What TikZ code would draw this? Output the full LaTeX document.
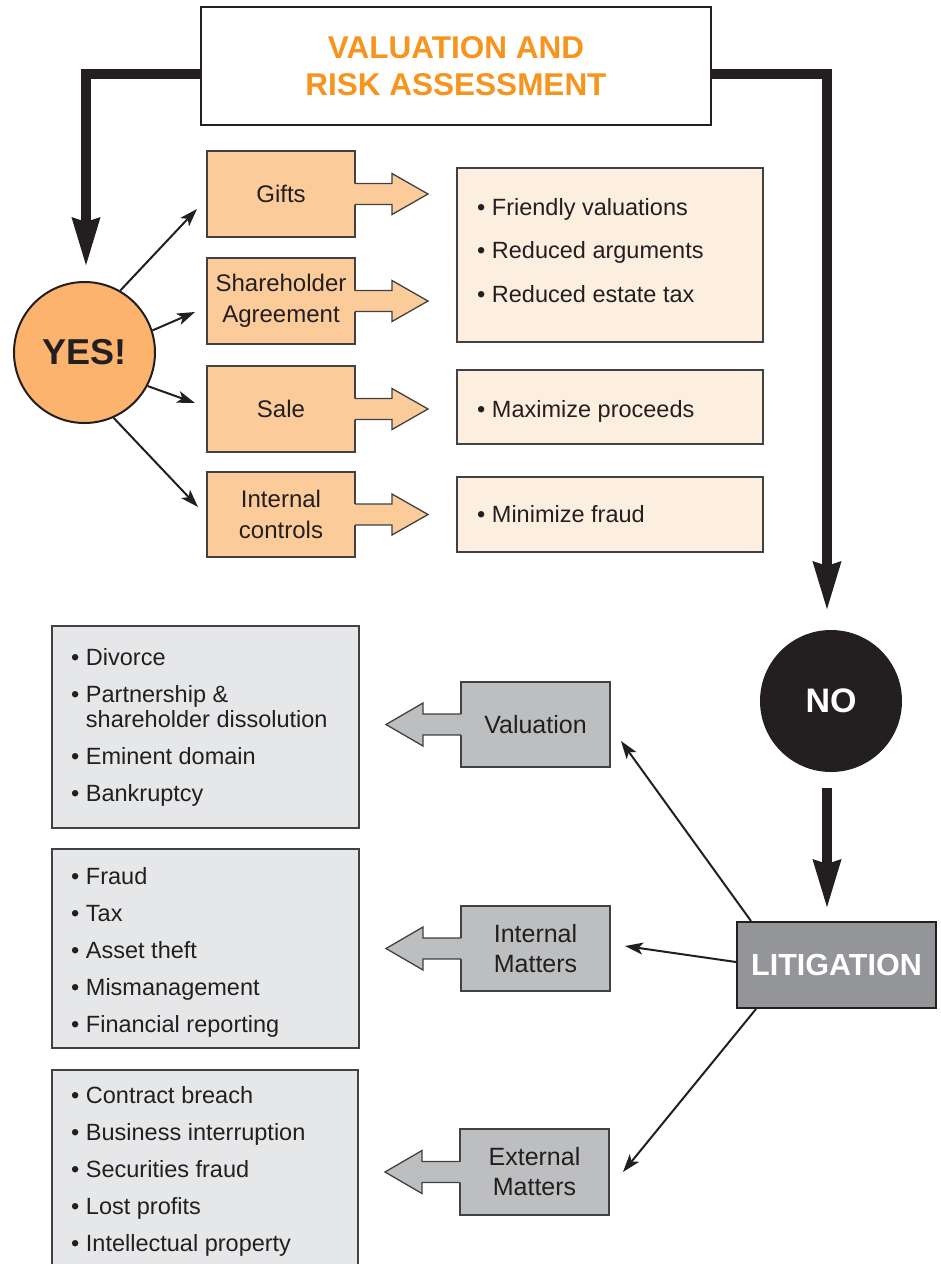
\documentclass[tikz,border=0pt]{standalone}
\usepackage{fontspec}
\setmainfont{Liberation Sans}
\usetikzlibrary{arrows.meta,calc}
\definecolor{ink}{HTML}{231F20}
\definecolor{orangetxt}{HTML}{F7941D}
\definecolor{obox}{HTML}{FBCB9A}
\definecolor{ocircle}{HTML}{FBB36E}
\definecolor{peach}{HTML}{FDEFDF}
\definecolor{lgray}{HTML}{E6E7E8}
\definecolor{mgray}{HTML}{BCBEC0}
\definecolor{dgray}{HTML}{939598}
\definecolor{bordc}{HTML}{414042}
\begin{document}
\begin{tikzpicture}[x=1pt,y=-1pt,
  bord/.style={draw=bordc, line width=1.3pt, outer sep=0pt},
  orbox/.style={bord, fill=obox, minimum width=148pt, minimum height=86pt, inner sep=0pt, align=center, text=ink, font=\fontsize{24}{31}\selectfont},
  smbox/.style={bord, fill=mgray, minimum width=149pt, minimum height=85pt, inner sep=0pt, align=center, text=ink, font=\fontsize{25}{30}\selectfont},
  pkbox/.style={bord, fill=peach, minimum width=306pt, inner sep=0pt},
  lgbox/.style={bord, fill=lgray, minimum width=307pt, inner sep=0pt},
  listtext/.style={anchor=base west, inner sep=0pt, text=ink, font=\fontsize{23.5}{25}\selectfont},
  thinarrow/.style={draw=ink, line width=2pt, -{Stealth[length=18pt,width=12pt,inset=4.5pt]}},
  thickarrow/.style={draw=ink, line width=10pt, line join=miter, -{Stealth[length=48pt,width=26pt,inset=3pt]}}
]
\useasboundingbox (0,0) rectangle (940,1264);
\clip (0,0) rectangle (940,1264);
\fill[white] (0,0) rectangle (940,1264);

% title
\node[draw=ink, line width=2pt, fill=white, minimum width=510pt, minimum height=118pt, inner sep=0pt, outer sep=0pt,
      align=center, text=orangetxt, font=\bfseries\fontsize{31.5}{37}\selectfont] (title) at (456,66)
      {VALUATION AND\\RISK ASSESSMENT};

% YES side
\node[circle, draw=ink, line width=2pt, fill=ocircle, minimum size=141pt, inner sep=0pt, text=ink,
      font=\bfseries\fontsize{36}{36}\selectfont] (yes) at (84.5,352.5) {YES!};

\node[orbox] (gifts) at (281,194) {Gifts};
\node[orbox] (share) at (281,301) {Shareholder\\Agreement};
\node[orbox] (sale)  at (281,409) {Sale};
\node[orbox, minimum height=85pt] (ictrl) at (281,514.5) {Internal\\controls};

\foreach \n in {gifts,share,sale,ictrl}{
  \fill[obox] ($(\n.east)+(-1.5,-10.5)$) -- ++(38.5,0) -- ++(0,-10) -- ++(36,20.5) -- ++(-36,20.5) -- ++(0,-10) -- ++(-38.5,0) -- cycle;
  \draw[bord] ($(\n.east)+(0,-10.5)$) -- ++(37,0) -- ++(0,-10) -- ++(36,20.5) -- ++(-36,20.5) -- ++(0,-10) -- ++(-37,0);
}

\node[pkbox, minimum height=174pt] (pk1) at (610,255) {};
\node[pkbox, minimum height=74pt] (pk2) at (610,407) {};
\node[pkbox, minimum height=75pt] (pk3) at (610,514.5) {};

\node[listtext] (tpk1) at (477,215) {\begin{tabular}[t]{@{}l@{}}• Friendly valuations\\[18.5pt]• Reduced arguments\\[18.5pt]• Reduced estate tax\end{tabular}};
\node[listtext] (tpk2) at (477,417) {• Maximize proceeds};
\node[listtext] (tpk3) at (477,522) {• Minimize fraud};

\coordinate (ta1) at (197,209);
\coordinate (ta2) at (195,312);
\coordinate (ta3) at (195,403);
\coordinate (ta4) at (198,507);
\draw[thinarrow] (yes.60) -- (ta1);
\draw[thinarrow] (yes.18) -- (ta2);
\draw[thinarrow] (yes.-28) -- (ta3);
\draw[thinarrow] (yes.-66) -- (ta4);

% thick connectors
\draw[thickarrow] ($(title.west)+(0,8)$) -| ($(yes.north)+(1.5,-14)$);
\coordinate (noin) at (827,611);
\draw[thickarrow] ($(title.east)+(0,8)$) -| (noin);

% NO side
\node[circle, fill=ink, minimum size=142pt, inner sep=0pt, text=white,
      font=\bfseries\fontsize{34}{34}\selectfont] (no) at (831,701) {NO};
\node[draw=ink, line width=2pt, fill=dgray, minimum width=199pt, minimum height=86pt, inner sep=0pt,
      text=white, font=\bfseries\fontsize{30.5}{30.5}\selectfont] (lit) at (836.5,965) {LITIGATION};
\draw[thickarrow] ($(no.south)+(-4,16)$) -- ($(lit.north)+(-9.5,-12)$);

% gray list boxes
\node[lgbox, minimum height=202pt] (gA) at (205.5,727) {};
\node[lgbox, minimum height=199pt] (gB) at (205.5,948.5) {};
\node[lgbox, minimum width=306pt, minimum height=200pt] (gC) at (205,1170) {};

\node[listtext] (tgA) at (71,665) {\begin{tabular}[t]{@{}l@{}}• Divorce\\[12pt]• Partnership \&\\\phantom{• }shareholder dissolution\\[12pt]• Eminent domain\\[12pt]• Bankruptcy\end{tabular}};
\node[listtext] (tgB) at (71,884) {\begin{tabular}[t]{@{}l@{}}• Fraud\\[12pt]• Tax\\[12pt]• Asset theft\\[12pt]• Mismanagement\\[12pt]• Financial reporting\end{tabular}};
\node[listtext] (tgC) at (71,1103) {\begin{tabular}[t]{@{}l@{}}• Contract breach\\[12pt]• Business interruption\\[12pt]• Securities fraud\\[12pt]• Lost profits\\[12pt]• Intellectual property\end{tabular}};

% small gray boxes with left block arrows
\node[smbox] (val)  at (535.5,724.5) {Valuation};
\node[smbox] (intm) at (535.5,948.5) {Internal\\Matters};
\node[smbox, minimum height=86pt] (extm) at (534.5,1172) {External\\Matters};

\foreach \n in {val,intm,extm}{
  \fill[mgray] ($(\n.west)+(1.5,-10.5)$) -- ++(-39.5,0) -- ++(0,-11) -- ++(-37,21.5) -- ++(37,21.5) -- ++(0,-11) -- ++(39.5,0) -- cycle;
  \draw[bord] ($(\n.west)+(0,-10.5)$) -- ++(-38,0) -- ++(0,-11) -- ++(-37,21.5) -- ++(37,21.5) -- ++(0,-11) -- ++(38,0);
}

\coordinate (tb1) at (621,741);
\coordinate (tb2) at (625,946);
\coordinate (tb3) at (623,1172);
\draw[thinarrow] ([xshift=15pt]lit.north west) -- (tb1);
\draw[thinarrow] ([yshift=3pt]lit.west) -- (tb2);
\draw[thinarrow] ([xshift=20pt]lit.south west) -- (tb3);
\end{tikzpicture}
\end{document}
